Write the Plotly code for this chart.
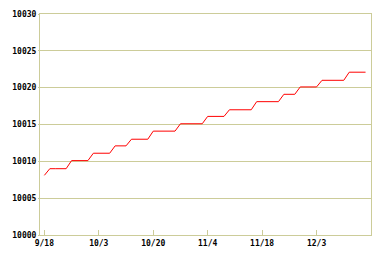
import plotly.graph_objects as go

# values per trading-day index
values = [10008.1,
          10009.0, 10009.0, 10009.0, 10009.0,
          10010.1, 10010.1, 10010.1, 10010.1,
          10011.1, 10011.1, 10011.1, 10011.1,
          10012.1, 10012.1, 10012.1,
          10013.0, 10013.0, 10013.0, 10013.0,
          10014.1, 10014.1, 10014.1, 10014.1, 10014.1,
          10015.1, 10015.1, 10015.1, 10015.1, 10015.1,
          10016.1, 10016.1, 10016.1, 10016.1,
          10017.0, 10017.0, 10017.0, 10017.0, 10017.0,
          10018.1, 10018.1, 10018.1, 10018.1, 10018.1,
          10019.1, 10019.1, 10019.1,
          10020.1, 10020.1, 10020.1, 10020.1,
          10021.0, 10021.0, 10021.0, 10021.0, 10021.0,
          10022.1, 10022.1, 10022.1, 10022.1]
index = list(range(len(values)))
tick_positions = [0, 10, 20, 30, 40, 50]
tick_labels = ["9/18", "10/3", "10/20", "11/4", "11/18", "12/3"]
y_ticks = [10000, 10005, 10010, 10015, 10020, 10025, 10030]

grid = "#cccc99"
font = dict(family="DejaVu Sans Mono", size=8, color="black")

fig = go.Figure(go.Scatter(x=index, y=values, mode="lines",
                           line=dict(color="#ff0000", width=1),
                           hoverinfo="skip"))
fig.update_layout(
    width=382, height=258,
    margin=dict(l=40, r=10, t=10, b=23),
    paper_bgcolor="white", plot_bgcolor="white",
    showlegend=False,
    font=font,
)
fig.update_xaxes(range=[-0.8, 60], tickvals=tick_positions, ticktext=tick_labels,
                 showgrid=False, zeroline=False,
                 showline=True, linecolor=grid, linewidth=1, mirror=True,
                 ticks="inside", ticklen=5, tickcolor=grid, tickwidth=1,
                 tickfont=dict(family="DejaVu Sans Mono", size=8, color="black", weight="bold"))
fig.update_yaxes(range=[10000, 10030], tickvals=y_ticks,
                 ticktext=[str(v) for v in y_ticks],
                 showgrid=True, gridcolor=grid, gridwidth=1, zeroline=False,
                 showline=True, linecolor=grid, linewidth=1, mirror=True,
                 ticks="outside", ticklen=1, tickcolor=grid,
                 tickfont=dict(family="DejaVu Sans Mono", size=8, color="black", weight="bold"))
fig.write_html("out.html")
